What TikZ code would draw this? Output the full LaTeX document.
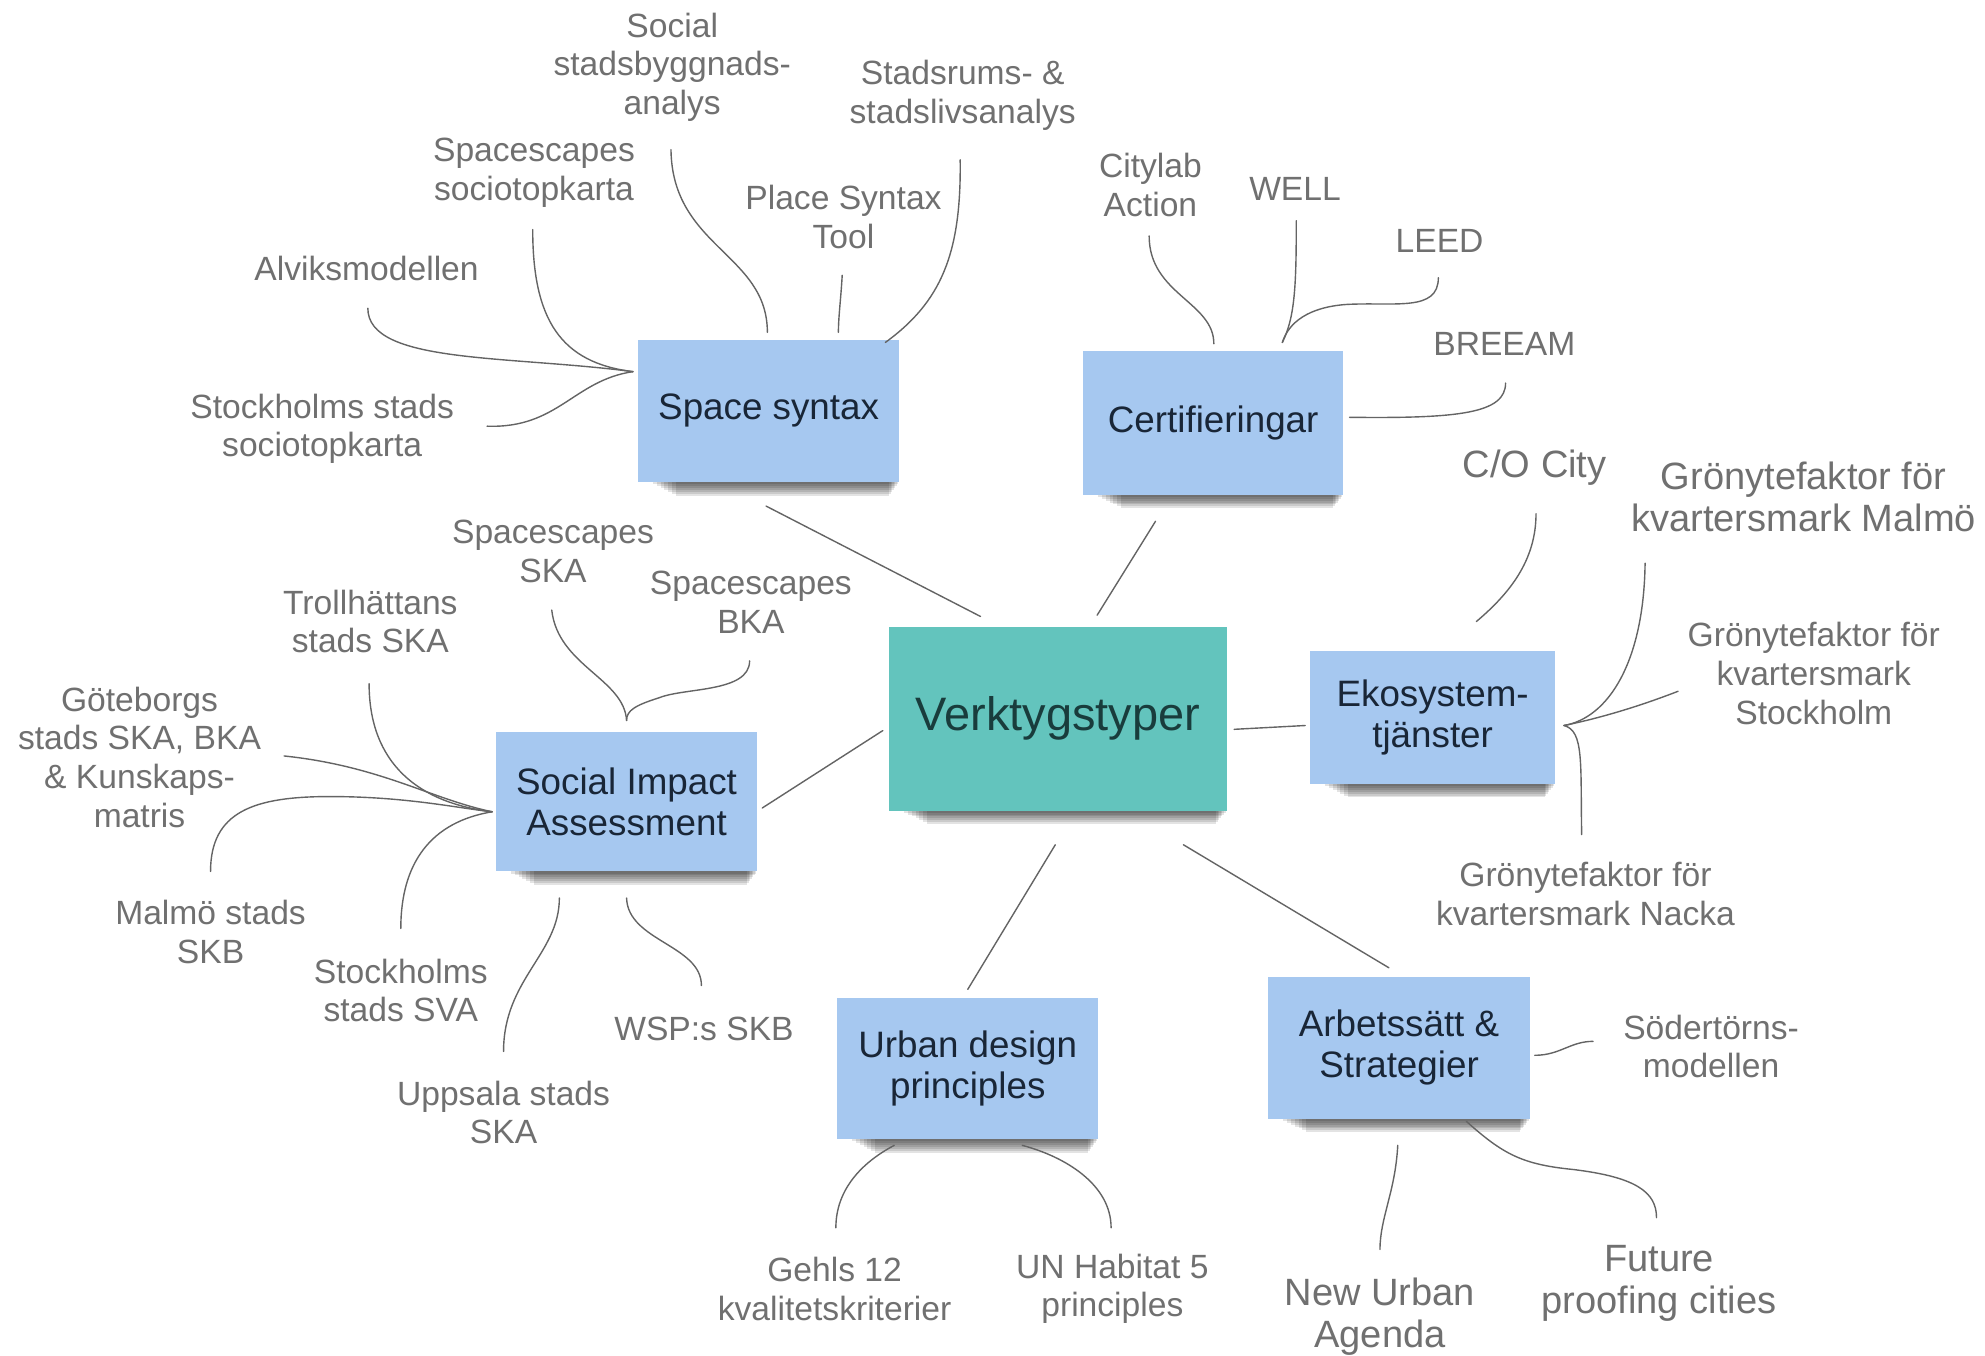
\documentclass[tikz,border=0pt]{standalone}
\usepackage{fontspec}
\setmainfont{Liberation Sans}
\usetikzlibrary{calc}
\definecolor{boxblue}{RGB}{166,200,240}
\definecolor{tealfill}{RGB}{99,196,189}
\definecolor{labgray}{RGB}{112,112,112}
\definecolor{linegray}{RGB}{100,100,100}
\definecolor{boxtext}{RGB}{25,38,55}
\definecolor{tealtext}{RGB}{25,60,60}
\pgfdeclarelayer{bg}\pgfdeclarelayer{shadowlayer}\pgfsetlayers{bg,shadowlayer,main}
\begin{document}
\begin{tikzpicture}[x=1pt,y=-1pt,
  box/.style={fill=boxblue, text=boxtext, align=center, inner sep=0pt, font=\fontsize{29}{32}\selectfont},
  lab/.style={text=labgray, align=center, inner sep=0pt, font=\fontsize{26.5}{30.5}\selectfont},
  biglab/.style={lab, font=\fontsize{30}{33}\selectfont},
  conn/.style={draw=linegray, line width=1.1pt, line cap=round},
]
\begin{pgfonlayer}{bg}\fill[white] (0,0) rectangle (1565,1069);\end{pgfonlayer}
\useasboundingbox (0,0) rectangle (1565,1069);

% ---------- boxes ----------
\node[box, fill=tealfill, text=tealtext, minimum width=266pt, minimum height=145pt, font=\fontsize{37}{44}\selectfont] (v) at (834,566.5) {Verktygstyper};
\node[box, minimum width=206pt, minimum height=112pt] (ss) at (606,324) {Space syntax};
\node[box, minimum width=205pt, minimum height=113pt] (cert) at (956.5,333.5) {Certifieringar};
\node[box, minimum width=193pt, minimum height=105pt] (eko) at (1129.5,565.5) {Ekosystem-\\tjänster};
\node[box, minimum width=206pt, minimum height=110pt] (sia) at (494,632) {Social Impact\\Assessment};
\node[box, minimum width=206pt, minimum height=111pt] (udp) at (763,842.5) {Urban design\\principles};
\node[box, minimum width=206pt, minimum height=112pt] (arb) at (1103,826) {Arbetssätt \&\\Strategier};

\begin{pgfonlayer}{shadowlayer}
\foreach \n in {v,ss,cert,eko,sia,udp,arb}{
  \foreach \i in {0,...,6}{
    \fill[black, opacity=0.11]
      ($(\n.south west)+(12+3*\i,-2)$) rectangle ($(\n.south east)+(-1-1.2*\i,1.5+1.5*\i)$);
  }
}
\end{pgfonlayer}

% ---------- labels ----------
\node[lab] (soc) at (530,53) {Social\\stadsbyggnads-\\analys};
\node[lab] (srum) at (759,75) {Stadsrums- \&\\stadslivsanalys};
\node[lab] (spsocio) at (421,136) {Spacescapes\\sociotopkarta};
\node[lab] (place) at (665,171) {Place Syntax\\Tool};
\node[lab] (alv) at (289,212) {Alviksmodellen};
\node[lab] (stsocio) at (254,338) {Stockholms stads\\sociotopkarta};
\node[lab] (city) at (907,146) {Citylab\\Action};
\node[lab] (well) at (1021,149) {WELL};
\node[lab] (leed) at (1135,190) {LEED};
\node[lab] (breeam) at (1186,271) {BREEAM};
\node[biglab] (co) at (1210,369) {C/O City};
\node[biglab] (gmalmo) at (1422,392) {Grönytefaktor för\\kvartersmark Malmö};
\node[lab] (gsthlm) at (1430,531) {Grönytefaktor för\\kvartersmark\\Stockholm};
\node[lab] (gnacka) at (1250,705) {Grönytefaktor för\\kvartersmark Nacka};
\node[lab] (ska) at (436,435) {Spacescapes\\SKA};
\node[lab] (bka) at (592,475) {Spacescapes\\BKA};
\node[lab] (troll) at (292,490) {Trollhättans\\stads SKA};
\node[lab] (gbg) at (110,597) {Göteborgs\\stads SKA, BKA\\\& Kunskaps-\\matris};
\node[lab] (mskb) at (166,735) {Malmö stads\\SKB};
\node[lab] (sva) at (316,781) {Stockholms\\stads SVA};
\node[lab] (upp) at (397,877) {Uppsala stads\\SKA};
\node[lab] (wsp) at (555,811) {WSP:s SKB};
\node[lab] (gehl) at (658,1016) {Gehls 12\\kvalitetskriterier};
\node[lab] (unh) at (877,1016) {UN Habitat 5\\principles};
\node[lab] (soder) at (1349,825) {Södertörns-\\modellen};
\node[biglab] (nua) at (1088,1038) {New Urban\\Agenda};
\node[biglab] (fpc) at (1308,1012) {Future\\proofing cities};

% ---------- connector end points ----------
\coordinate (v-ss) at (773,486);  \coordinate (ss-v) at (604,399);
\coordinate (v-cert) at (865,485); \coordinate (cert-v) at (911,411);
\coordinate (v-eko) at (973,575); \coordinate (eko-v) at (1029,572);
\coordinate (v-sia) at (696,576); \coordinate (sia-v) at (601,637);
\coordinate (v-udp) at (832,666); \coordinate (udp-v) at (763,780);
\coordinate (v-arb) at (933,666); \coordinate (arb-v) at (1095,763);

\coordinate (ss-hub) at (499,293);
\coordinate (alv-e) at (290,243);
\coordinate (spsocio-e) at (420,181);
\coordinate (stsocio-e) at (384,336);
\coordinate (soc-e) at (529,118); \coordinate (soc-b) at (605,262);
\coordinate (place-e) at (664,217); \coordinate (place-b) at (661,262);
\coordinate (srum-e) at (757,126); \coordinate (srum-b) at (698,270);

\coordinate (city-e) at (906,186); \coordinate (city-b) at (957,271);
\coordinate (well-e) at (1022,174); \coordinate (well-b) at (1011,270);
\coordinate (leed-e) at (1134,219);
\coordinate (breeam-e) at (1187,302); \coordinate (breeam-b) at (1064,329);

\coordinate (eko-hub) at (1233,572);
\coordinate (co-e) at (1211,405); \coordinate (co-b) at (1164,490);
\coordinate (gmalmo-e) at (1297,444);
\coordinate (gsthlm-e) at (1323,545);
\coordinate (gnacka-e) at (1247,658);

\coordinate (sia-hub) at (388,640);
\coordinate (sia-top) at (494,568);
\coordinate (ska-e) at (435,481);
\coordinate (bka-e) at (591,521);
\coordinate (troll-e) at (291,539);
\coordinate (gbg-e) at (224,596);
\coordinate (mskb-e) at (166,687);
\coordinate (sva-e) at (316,732);
\coordinate (upp-e) at (397,829); \coordinate (upp-b) at (441,708);
\coordinate (wsp-e) at (553,777); \coordinate (wsp-b) at (494,708);

\coordinate (gehl-e) at (659,968); \coordinate (gehl-b) at (705,903);
\coordinate (unh-e) at (876,968); \coordinate (unh-b) at (806,903);

\coordinate (soder-e) at (1256,821); \coordinate (soder-b) at (1210,832);
\coordinate (nua-e) at (1088,985); \coordinate (nua-b) at (1102,903);
\coordinate (fpc-e) at (1306,960); \coordinate (fpc-b) at (1156,884);

% ---------- connectors ----------
\draw[conn] (v-ss) -- (ss-v);
\draw[conn] (v-cert) -- (cert-v);
\draw[conn] (v-eko) -- (eko-v);
\draw[conn] (v-sia) -- (sia-v);
\draw[conn] (v-udp) -- (udp-v);
\draw[conn] (v-arb) -- (arb-v);

% space syntax
\draw[conn] (alv-e) .. controls (290,287) and (400,280) .. (ss-hub);
\draw[conn] (spsocio-e) .. controls (420,252) and (442,286) .. (ss-hub);
\draw[conn] (stsocio-e) .. controls (440,338) and (452,300) .. (ss-hub);
\draw[conn] (soc-e) .. controls (530,195) and (605,200) .. (soc-b);
\draw[conn] (place-e) .. controls (663,235) and (661,250) .. (place-b);
\draw[conn] (srum-e) .. controls (758,200) and (742,238) .. (srum-b);

% certifieringar
\draw[conn] (city-e) .. controls (906,232) and (957,238) .. (city-b);
\draw[conn] (well-e) .. controls (1022,225) and (1021,250) .. (well-b);
\draw[conn] (leed-e) .. controls (1134,246) and (1100,238) .. (1062,240)
                     .. controls (1032,242) and (1016,254) .. (well-b);
\draw[conn] (breeam-e) .. controls (1187,326) and (1150,330) .. (breeam-b);

% ekosystem
\draw[conn] (co-e) .. controls (1211,442) and (1190,468) .. (co-b);
\draw[conn] (gmalmo-e) .. controls (1296,522) and (1268,566) .. (eko-hub);
\draw[conn] (gsthlm-e) .. controls (1292,557) and (1262,566) .. (eko-hub);
\draw[conn] (eko-hub) .. controls (1249,576) and (1246,602) .. (gnacka-e);

% social impact
\draw[conn] (ska-e) .. controls (440,525) and (492,535) .. (sia-top);
\draw[conn] (bka-e) .. controls (591,546) and (540,542) .. (520,550)
                    .. controls (501,556) and (494,560) .. (sia-top);
\draw[conn] (troll-e) .. controls (291,602) and (330,633) .. (sia-hub);
\draw[conn] (gbg-e) .. controls (300,604) and (340,630) .. (sia-hub);
\draw[conn] (mskb-e) .. controls (166,640) and (200,628) .. (260,628)
                     .. controls (320,628) and (360,637) .. (sia-hub);
\draw[conn] (sva-e) .. controls (316,680) and (340,648) .. (sia-hub);
\draw[conn] (upp-e) .. controls (397,772) and (441,752) .. (upp-b);
\draw[conn] (wsp-e) .. controls (553,745) and (495,742) .. (wsp-b);

% urban design
\draw[conn] (gehl-e) .. controls (659,932) and (688,912) .. (gehl-b);
\draw[conn] (unh-e) .. controls (876,934) and (840,912) .. (unh-b);

% arbetssatt
\draw[conn] (soder-b) .. controls (1230,832) and (1238,821) .. (soder-e);
\draw[conn] (nua-b) .. controls (1100,940) and (1088,960) .. (nua-e);
\draw[conn] (fpc-b) .. controls (1185,910) and (1200,918) .. (1240,922)
                    .. controls (1290,928) and (1306,940) .. (fpc-e);
\end{tikzpicture}
\end{document}
